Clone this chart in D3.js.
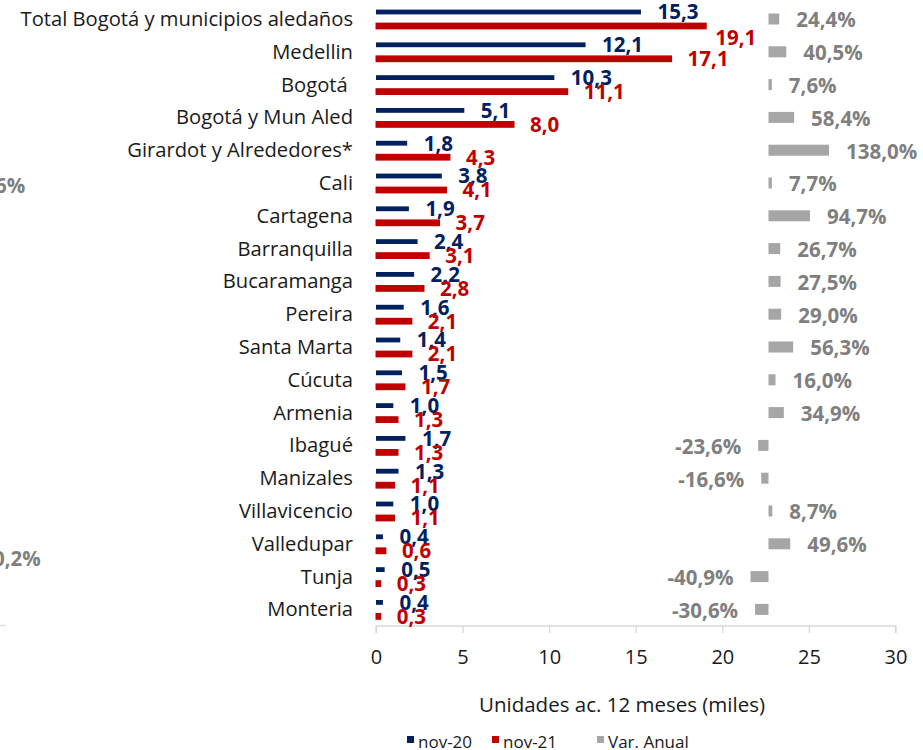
<!DOCTYPE html>
<html>
<head>
<meta charset="utf-8">
<script src="https://cdn.jsdelivr.net/npm/d3@7"></script>
<style>
  html, body { margin: 0; padding: 0; background: #fff; }
  svg { display: block; font-family: "Open Sans", "Noto Sans", sans-serif; }
  text { white-space: pre; }
</style>
</head>
<body>
<svg id="chart" width="923" height="750"></svg>
<script>
// Ventas de vivienda por ciudad: unidades acumuladas 12 meses (miles) y variación anual
const categories = [
  "Total Bogotá y municipios aledaños", "Medellin", "Bogotá ", "Bogotá y Mun Aled",
  "Girardot y Alrededores*", "Cali", "Cartagena", "Barranquilla", "Bucaramanga",
  "Pereira", "Santa Marta", "Cúcuta", "Armenia", "Ibagué", "Manizales",
  "Villavicencio", "Valledupar", "Tunja", "Monteria"
];
const nov20 = [15.3, 12.1, 10.3, 5.1, 1.8, 3.8, 1.9, 2.4, 2.2, 1.6, 1.4, 1.5, 1.0, 1.7, 1.3, 1.0, 0.4, 0.5, 0.4];
const nov21 = [19.1, 17.1, 11.1, 8.0, 4.3, 4.1, 3.7, 3.1, 2.8, 2.1, 2.1, 1.7, 1.3, 1.3, 1.1, 1.1, 0.6, 0.3, 0.3];
const varAnual = [24.4, 40.5, 7.6, 58.4, 138.0, 7.7, 94.7, 26.7, 27.5, 29.0, 56.3, 16.0, 34.9, -23.6, -16.6, 8.7, 49.6, -40.9, -30.6];
const xTicks = [0, 5, 10, 15, 20, 25, 30];
const seriesNames = ["nov-20", "nov-21", "Var. Anual"];

const colors = { nov20: "#002060", nov21: "#c00000", varAnual: "#a6a6a6", varLabel: "#7f7f7f", axis: "#d9d9d9", text: "#1a1a1a" };

const es = d3.formatLocale({ decimal: ",", thousands: ".", grouping: [3], currency: ["$", ""], minus: "-" });
const fmt1 = es.format(".1f");
const fmtPct = v => fmt1(v) + "%";

const svg = d3.select("#chart");

// Primary value axis (thousands of units)
const x = d3.scaleLinear().domain([0, 30]).range([376, 895.5]);
// Secondary axis for the annual change bars
const x2 = d3.scaleLinear().domain([0, 138]).range([768.5, 829]);
const y = d3.scaleBand().domain(categories).range([2.6, 625.8]);

const rows = categories.map((c, i) => ({ c, a: nov20[i], b: nov21[i], v: varAnual[i] }));
const cy = d => y(d.c) + y.bandwidth() / 2;

const labelSize = 20.5;

// Axis along the bottom with downward ticks
const axisG = svg.append("g").attr("transform", "translate(0,626)");
axisG.call(d3.axisBottom(x).tickValues(xTicks).tickSize(7).tickPadding(17).tickFormat(d3.format("d")));
axisG.select(".domain").attr("stroke", colors.axis).attr("stroke-width", 1.3).attr("d", `M${x(0)},7V0H${x(30)}V7`);
axisG.selectAll(".tick line").attr("stroke", colors.axis).attr("stroke-width", 1.3);
axisG.selectAll(".tick text").attr("font-size", 20).attr("fill", colors.text)
  .attr("font-family", '"Open Sans", sans-serif');

svg.append("text").attr("x", 622).attr("y", 712).attr("text-anchor", "middle")
  .attr("font-size", 20.5).attr("fill", colors.text).text("Unidades ac. 12 meses (miles)");

// Category labels
svg.append("g").selectAll("text").data(rows).join("text")
  .attr("x", 353).attr("y", d => cy(d)).attr("dy", "0.35em")
  .attr("text-anchor", "end").attr("font-size", 20.2).attr("fill", colors.text)
  .text(d => d.c);

// nov-20 and nov-21 bars
svg.append("g").selectAll("rect").data(rows).join("rect")
  .attr("x", x(0)).attr("y", d => cy(d) - 7 - 2.4).attr("height", 4.8)
  .attr("width", d => x(d.a) - x(0)).attr("fill", colors.nov20);
svg.append("g").selectAll("rect").data(rows).join("rect")
  .attr("x", x(0) - 0.5).attr("y", d => cy(d) + 7 - 3.4).attr("height", 6.8)
  .attr("width", d => x(d.b) - x(0) + 0.5).attr("fill", colors.nov21);

// Annual change bars
svg.append("g").selectAll("rect").data(rows).join("rect")
  .attr("x", d => Math.min(x2(0), x2(d.v))).attr("y", d => cy(d) - 5.5).attr("height", 11)
  .attr("width", d => Math.max(1.5, Math.abs(x2(d.v) - x2(0)))).attr("fill", colors.varAnual);

// Value labels; the first nov-21 label sits lower to clear the nov-20 label
const redNudge = { 0: { dx: -7, dy: 12 } };
svg.append("g").selectAll("text").data(rows).join("text")
  .attr("x", d => x(d.a) + 16.5).attr("y", d => cy(d) - 7).attr("dy", "0.36em")
  .attr("font-size", labelSize).attr("font-weight", 700).attr("fill", colors.nov20)
  .text(d => fmt1(d.a));
svg.append("g").selectAll("text").data(rows).join("text")
  .attr("x", (d, i) => x(d.b) + 15.5 + (redNudge[i] ? redNudge[i].dx : 0))
  .attr("y", (d, i) => cy(d) + 7 + (redNudge[i] ? redNudge[i].dy : 0)).attr("dy", "0.36em")
  .attr("font-size", labelSize).attr("font-weight", 700).attr("fill", colors.nov21)
  .text(d => fmt1(d.b));
svg.append("g").selectAll("text").data(rows).join("text")
  .attr("x", d => d.v >= 0 ? x2(d.v) + 17 : x2(d.v) - 17)
  .attr("y", d => cy(d) + 1).attr("dy", "0.36em")
  .attr("text-anchor", d => d.v >= 0 ? "start" : "end")
  .attr("font-size", labelSize).attr("font-weight", 700).attr("fill", colors.varLabel)
  .text(d => fmtPct(d.v));

// Legend
const legend = svg.append("g");
const legendItems = [
  { name: seriesNames[0], color: colors.nov20, x: 407 },
  { name: seriesNames[1], color: colors.nov21, x: 492 },
  { name: seriesNames[2], color: colors.varAnual, x: 597 }
];
legendItems.forEach(it => {
  legend.append("rect").attr("x", it.x).attr("y", 736).attr("width", 7).attr("height", 7).attr("fill", it.color);
  legend.append("text").attr("x", it.x + 11).attr("y", 747.5).attr("font-size", 17).attr("fill", colors.text).text(it.name);
});

// Edge of the neighbouring panel on the left
svg.append("text").attr("x", -5).attr("y", 186).attr("dy", "0.36em")
  .attr("font-size", labelSize).attr("font-weight", 700).attr("fill", colors.varLabel).text("6%");
svg.append("text").attr("x", -7).attr("y", 559).attr("dy", "0.36em")
  .attr("font-size", labelSize).attr("font-weight", 700).attr("fill", colors.varLabel).text("0,2%");
svg.append("line").attr("x1", 0).attr("x2", 6).attr("y1", 625.5).attr("y2", 625.5)
  .attr("stroke", colors.axis).attr("stroke-width", 1.3);
</script>
</body>
</html>
